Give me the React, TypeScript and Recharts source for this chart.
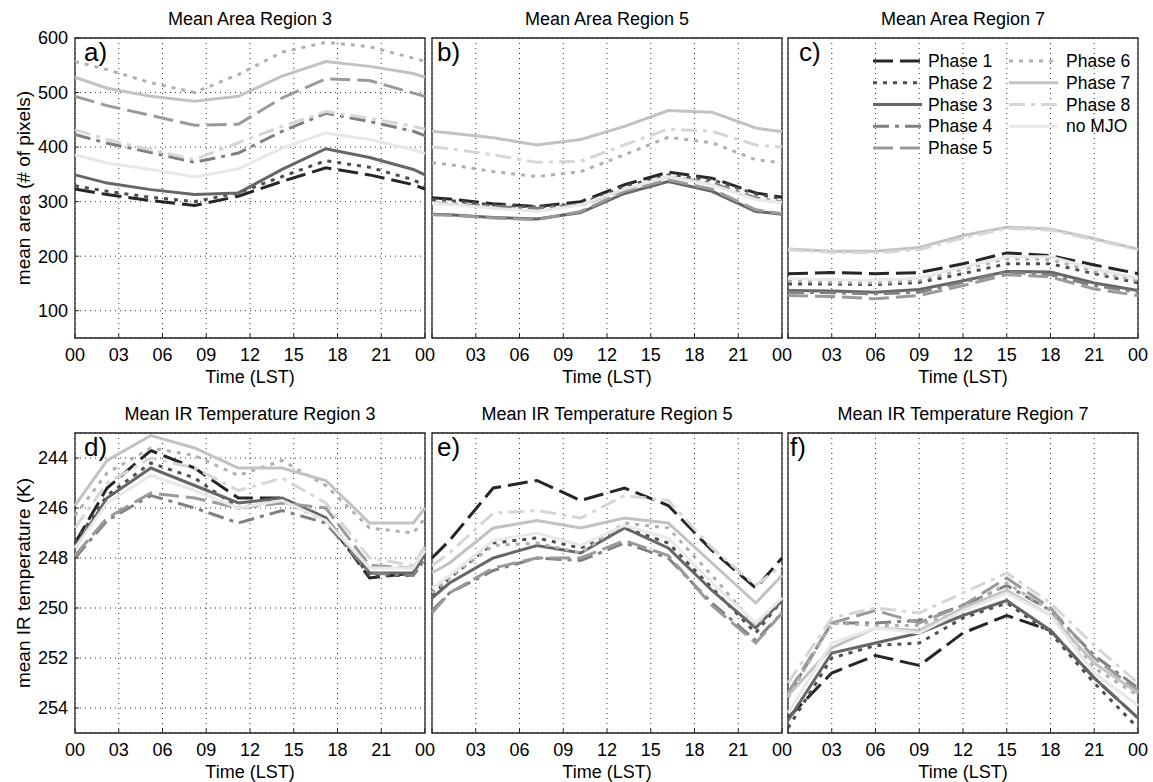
import React from 'react';
import { LineChart, Line, XAxis, YAxis, CartesianGrid, ReferenceArea, Legend } from 'recharts';

// ---- x positions (local solar time, hours) ----
const HOURS_R3 = [0, 2.2, 5.2, 8.2, 11.2, 14.2, 17.2, 20.2, 23.2, 24];
const HOURS_R5 = [0, 1.2, 4.2, 7.2, 10.2, 13.2, 16.2, 19.2, 22.2, 24];
const HOURS_R7 = [0, 3, 6, 9, 12, 15, 18, 21, 24];

// ---- tick labels ----
const X_TICKS = [0, 3, 6, 9, 12, 15, 18, 21, 24];
const AREA_TICKS = [100, 200, 300, 400, 500, 600];
const IR_TICKS = [244, 246, 248, 250, 252, 254];

// ---- series ----
const SERIES_NAMES = ['Phase 1', 'Phase 2', 'Phase 3', 'Phase 4', 'Phase 5', 'Phase 6', 'Phase 7', 'Phase 8', 'no MJO'];
const SERIES_KEYS = ['p1', 'p2', 'p3', 'p4', 'p5', 'p6', 'p7', 'p8', 'nomjo'];
const SERIES_COLORS = ['#262626', '#4d4d4d', '#666666', '#808080', '#9a9a9a', '#b0b0b0', '#c2c2c2', '#d6d6d6', '#e8e8e8'];
const SERIES_DASH = ['20 7', '4 6', undefined, '16 6 4 6', '20 7', '4 6', undefined, '16 6 4 6', undefined];

// ---- a) mean area, region 3 (rows: Phase 1..8, no MJO) ----
const AREA_R3 = [
  [323, 313, 302, 293, 310, 337, 362, 349, 331, 323],
  [329, 319, 308, 300, 316, 346, 375, 363, 340, 329],
  [349, 334, 322, 313, 316, 359, 397, 381, 359, 349],
  [423, 407, 390, 372, 389, 429, 462, 447, 429, 421],
  [493, 476, 458, 440, 442, 490, 525, 522, 499, 493],
  [557, 542, 518, 500, 533, 574, 592, 584, 563, 557],
  [528, 508, 493, 484, 493, 530, 557, 548, 535, 528],
  [432, 414, 395, 377, 408, 438, 465, 453, 438, 433],
  [386, 371, 359, 345, 360, 398, 426, 414, 395, 388],
];

// ---- b) mean area, region 5 ----
const AREA_R5 = [
  [307, 305, 296, 291, 300, 331, 354, 343, 316, 308],
  [304, 302, 294, 290, 296, 328, 349, 340, 314, 305],
  [277, 276, 271, 268, 280, 315, 337, 319, 282, 277],
  [298, 296, 291, 288, 294, 322, 346, 334, 307, 299],
  [276, 275, 270, 267, 282, 319, 340, 323, 285, 278],
  [371, 368, 355, 346, 355, 386, 418, 408, 377, 371],
  [429, 426, 417, 404, 414, 438, 467, 464, 435, 428],
  [400, 397, 386, 372, 374, 404, 433, 429, 404, 400],
  [297, 295, 288, 282, 294, 323, 346, 331, 304, 298],
];

// ---- c) mean area, region 7 ----
const AREA_R7 = [
  [168, 170, 168, 170, 186, 206, 201, 184, 168],
  [149, 149, 148, 152, 168, 186, 186, 168, 151],
  [137, 136, 134, 139, 155, 172, 171, 151, 137],
  [134, 133, 131, 134, 152, 171, 166, 146, 134],
  [128, 126, 122, 128, 146, 166, 162, 140, 128],
  [155, 152, 151, 156, 176, 195, 194, 172, 155],
  [213, 209, 209, 216, 238, 253, 250, 232, 213],
  [212, 207, 206, 212, 233, 251, 248, 230, 212],
  [159, 157, 156, 160, 180, 199, 199, 177, 159],
];

// ---- d) mean IR temperature, region 3 ----
const IR_R3 = [
  [247.4, 245.2, 243.7, 244.4, 245.6, 245.6, 246.4, 248.8, 248.6, 247.8],
  [247.4, 245.5, 244.2, 244.8, 246.0, 245.7, 246.5, 248.7, 248.7, 248.0],
  [247.6, 245.6, 244.4, 245.1, 245.8, 245.6, 246.4, 248.6, 248.6, 247.8],
  [248.0, 246.5, 245.5, 246.0, 246.6, 246.1, 246.6, 248.6, 248.7, 248.0],
  [247.9, 246.4, 245.4, 245.6, 246.0, 245.8, 246.0, 248.3, 248.4, 247.6],
  [246.3, 244.6, 243.6, 243.9, 244.7, 244.1, 245.1, 246.8, 247.0, 246.4],
  [245.9, 244.1, 243.1, 243.6, 244.4, 244.4, 244.9, 246.6, 246.6, 246.0],
  [246.8, 245.0, 244.0, 244.4, 245.3, 244.8, 245.8, 248.0, 248.3, 247.5],
  [247.6, 245.8, 244.7, 245.3, 246.0, 245.7, 246.5, 248.4, 248.4, 247.7],
];

// ---- e) mean IR temperature, region 5 ----
const IR_R5 = [
  [248.0, 247.3, 245.2, 244.9, 245.7, 245.2, 245.9, 247.7, 249.2, 248.0],
  [249.5, 248.8, 247.4, 247.2, 247.6, 246.8, 247.4, 249.2, 251.0, 249.7],
  [249.6, 249.0, 248.0, 247.5, 247.8, 246.8, 247.6, 249.3, 250.8, 249.7],
  [250.1, 249.4, 248.5, 248.0, 248.1, 247.4, 248.0, 249.8, 251.3, 250.2],
  [250.2, 249.4, 248.4, 248.0, 248.0, 247.3, 247.9, 249.9, 251.4, 250.2],
  [249.4, 248.8, 247.5, 247.4, 247.8, 246.6, 246.8, 248.7, 250.7, 249.6],
  [248.6, 248.2, 246.8, 246.5, 246.8, 246.4, 246.6, 248.2, 249.8, 248.7],
  [248.3, 247.8, 246.2, 246.1, 246.4, 245.5, 245.7, 247.6, 249.1, 248.3],
  [249.2, 248.7, 247.3, 247.0, 247.5, 246.7, 247.2, 249.0, 250.6, 249.6],
];

// ---- f) mean IR temperature, region 7 ----
const IR_R7 = [
  [254.4, 252.6, 251.9, 252.3, 251.0, 250.3, 250.9, 252.8, 254.4],
  [254.8, 252.0, 251.5, 251.4, 250.4, 249.8, 251.0, 253.0, 254.8],
  [254.5, 251.8, 251.4, 251.0, 250.3, 249.7, 250.9, 252.8, 254.4],
  [253.5, 250.6, 250.6, 250.5, 249.9, 249.1, 250.1, 251.9, 253.2],
  [253.4, 250.6, 250.1, 250.6, 249.9, 248.8, 250.0, 252.0, 253.3],
  [253.6, 250.6, 250.7, 250.7, 250.1, 249.0, 250.1, 252.4, 253.5],
  [253.5, 251.6, 250.8, 250.9, 250.0, 249.3, 250.3, 252.2, 253.4],
  [253.0, 250.4, 250.0, 250.2, 249.4, 248.6, 249.8, 251.5, 253.0],
  [254.2, 251.4, 250.8, 251.0, 250.1, 249.4, 250.3, 252.6, 253.9],
];

const FONT = '"Liberation Sans", Arial, Helvetica, sans-serif';
const FS = 18;
const PLOT_W = 350;
const PLOT_H = 300;
const TOPH = 38;
const BOTH = 50;
const MR = 22;

type PanelCfg = {
  id: string;
  plotLeft: number;
  plotTop: number;
  hours: number[];
  rows: number[][];
  kind: 'area' | 'ir';
  title: string;
  letter: string;
  letterDx: number;
  showY: boolean;
  hideFirst: boolean;
  legend?: boolean;
};

const PANELS: PanelCfg[] = [
  { id: 'a', plotLeft: 75, plotTop: 38, hours: HOURS_R3, rows: AREA_R3, kind: 'area', title: 'Mean Area Region 3', letter: 'a)', letterDx: 9, showY: true, hideFirst: false },
  { id: 'b', plotLeft: 432, plotTop: 38, hours: HOURS_R5, rows: AREA_R5, kind: 'area', title: 'Mean Area Region 5', letter: 'b)', letterDx: 5, showY: false, hideFirst: true },
  { id: 'c', plotLeft: 788, plotTop: 38, hours: HOURS_R7, rows: AREA_R7, kind: 'area', title: 'Mean Area Region 7', letter: 'c)', letterDx: 11, showY: false, hideFirst: true, legend: true },
  { id: 'd', plotLeft: 75, plotTop: 433, hours: HOURS_R3, rows: IR_R3, kind: 'ir', title: 'Mean IR Temperature Region 3', letter: 'd)', letterDx: 9, showY: true, hideFirst: false },
  { id: 'e', plotLeft: 432, plotTop: 433, hours: HOURS_R5, rows: IR_R5, kind: 'ir', title: 'Mean IR Temperature Region 5', letter: 'e)', letterDx: 5, showY: false, hideFirst: true },
  { id: 'f', plotLeft: 788, plotTop: 433, hours: HOURS_R7, rows: IR_R7, kind: 'ir', title: 'Mean IR Temperature Region 7', letter: 'f)', letterDx: 2, showY: false, hideFirst: true },
];

function buildData(hours: number[], rows: number[][]) {
  return hours.map((t, i) => {
    const o: Record<string, number> = { t };
    SERIES_KEYS.forEach((k, s) => {
      o[k] = rows[s][i];
    });
    return o;
  });
}

const fmtHour = (v: number) => String(v % 24).padStart(2, '0');

function LegendBox() {
  return (
    <svg width={280} height={115} style={{ overflow: 'visible', display: 'block' }}>
      {SERIES_NAMES.map((name, i) => {
        const col = i < 5 ? 0 : 1;
        const row = i < 5 ? i : i - 5;
        const lx = col === 0 ? 7 : 143;
        const tx = col === 0 ? 62 : 200;
        const y = 16 + row * 21.75;
        return (
          <g key={name}>
            <line x1={lx} x2={lx + 49} y1={y} y2={y} stroke={SERIES_COLORS[i]} strokeWidth={3} strokeDasharray={SERIES_DASH[i]} />
            <text x={tx} y={y + 6} fontSize={17.5} fill="#000" fontFamily={FONT}>{name}</text>
          </g>
        );
      })}
    </svg>
  );
}

function Panel({ cfg }: { cfg: PanelCfg }) {
  const YW = cfg.showY ? 75 : 0;
  const ML = cfg.showY ? 0 : 2;
  const width = ML + YW + PLOT_W + MR;
  const height = TOPH + PLOT_H + BOTH;
  const data = buildData(cfg.hours, cfg.rows);
  const isArea = cfg.kind === 'area';
  const yDomain: [number, number] = isArea ? [50, 600] : [243, 255];
  const yTicks = isArea ? AREA_TICKS : IR_TICKS;
  const yLabel = isArea ? 'mean area (# of pixels)' : 'mean IR temperature (K)';

  const XTick = (p: any) => {
    const v = p.payload?.value;
    if (cfg.hideFirst && v === 0) return null;
    return (
      <text x={p.x} y={p.y} dy={13} textAnchor="middle" fontSize={FS} fill="#000" fontFamily={FONT}>
        {fmtHour(v)}
      </text>
    );
  };

  const topLabel = (p: any) => {
    const vb = p?.viewBox ?? { x: ML + YW, y: 0, width: PLOT_W, height: TOPH };
    return (
      <g>
        <text x={vb.x + vb.width / 2} y={vb.y + vb.height - 13} textAnchor="middle" fontSize={FS} fill="#000" fontFamily={FONT}>
          {cfg.title}
        </text>
        <text x={vb.x + cfg.letterDx} y={vb.y + vb.height + 23} fontSize={26} fill="#000" fontFamily={FONT}>
          {cfg.letter}
        </text>
      </g>
    );
  };

  const bottomLabel = (p: any) => {
    const vb = p?.viewBox ?? { x: ML + YW, y: TOPH + PLOT_H, width: PLOT_W, height: BOTH };
    return (
      <text x={vb.x + vb.width / 2} y={vb.y + 45} textAnchor="middle" fontSize={FS} fill="#000" fontFamily={FONT}>
        Time (LST)
      </text>
    );
  };

  const leftLabel = (p: any) => {
    const vb = p?.viewBox ?? { x: 0, y: TOPH, width: YW, height: PLOT_H };
    const cx = vb.x + 30;
    const cy = vb.y + vb.height / 2;
    return (
      <text x={cx} y={cy} transform={`rotate(-90, ${cx}, ${cy})`} textAnchor="middle" fontSize={19} fill="#000" fontFamily={FONT}>
        {yLabel}
      </text>
    );
  };

  return (
    <div style={{ position: 'absolute', left: cfg.plotLeft - YW - ML, top: cfg.plotTop - TOPH }}>
      <LineChart width={width} height={height} data={data} margin={{ top: 0, right: MR, bottom: 0, left: ML }}>
        <CartesianGrid stroke="#333" strokeDasharray="1 4" strokeWidth={1} />
        <XAxis
          xAxisId="top"
          orientation="top"
          type="number"
          dataKey="t"
          domain={[0, 24]}
          ticks={X_TICKS}
          interval={0}
          height={TOPH}
          tick={false}
          tickSize={-4}
          tickLine={{ stroke: '#222' }}
          axisLine={false}
          label={topLabel}
        />
        <XAxis
          type="number"
          dataKey="t"
          domain={[0, 24]}
          ticks={X_TICKS}
          interval={0}
          height={BOTH}
          axisLine={false}
          tickSize={-4}
          tickMargin={14}
          tickLine={{ stroke: '#222' }}
          tick={XTick}
          label={bottomLabel}
        />
        {cfg.showY ? (
          <YAxis
            type="number"
            domain={yDomain}
            ticks={yTicks}
            interval={0}
            reversed={!isArea}
            width={YW}
            axisLine={false}
            tickSize={-4}
            tickMargin={11}
            tickLine={{ stroke: '#222' }}
            tick={{ fontSize: FS, fill: '#000', fontFamily: FONT }}
            allowDataOverflow
            label={leftLabel}
          />
        ) : (
          <YAxis
            type="number"
            domain={yDomain}
            ticks={yTicks}
            interval={0}
            reversed={!isArea}
            width={0}
            axisLine={false}
            tick={false}
            tickSize={-4}
            tickLine={{ stroke: '#222' }}
            allowDataOverflow
          />
        )}
        <YAxis
          yAxisId="right"
          orientation="right"
          type="number"
          domain={yDomain}
          ticks={yTicks}
          interval={0}
          reversed={!isArea}
          width={0}
          axisLine={false}
          tick={false}
          tickSize={-4}
          tickLine={{ stroke: '#222' }}
          allowDataOverflow
        />
        {SERIES_KEYS.map((k, i) => (
          <Line
            key={k}
            type="linear"
            dataKey={k}
            name={SERIES_NAMES[i]}
            stroke={SERIES_COLORS[i]}
            strokeWidth={3}
            strokeDasharray={SERIES_DASH[i]}
            dot={false}
            activeDot={false}
            isAnimationActive={false}
          />
        ))}
        <ReferenceArea x1={0} x2={24} y1={yDomain[0]} y2={yDomain[1]} fill="none" stroke="#222" strokeWidth={1.3} />
        {cfg.legend ? (
          <Legend
            layout="vertical"
            align="center"
            verticalAlign="middle"
            content={() => <LegendBox />}
            wrapperStyle={{ position: 'absolute', left: 80, top: 45, width: 280, height: 115 }}
          />
        ) : null}
      </LineChart>
    </div>
  );
}

export default function App() {
  return (
    <div style={{ position: 'absolute', left: 0, top: 0, width: 1153, height: 782, background: '#fff', fontFamily: FONT }}>
      {PANELS.map((p) => (
        <Panel key={p.id} cfg={p} />
      ))}
    </div>
  );
}
